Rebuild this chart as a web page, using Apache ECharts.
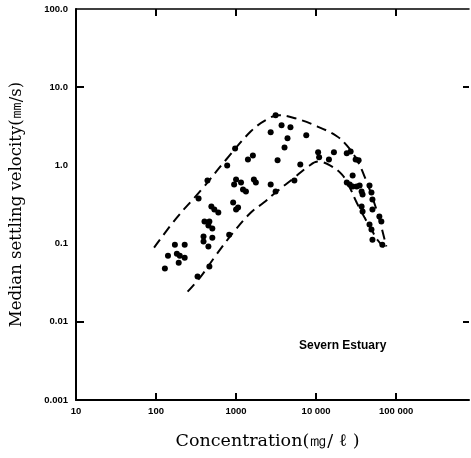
<!DOCTYPE html>
<html><head><meta charset="utf-8">
<script src="https://cdn.jsdelivr.net/npm/echarts@6/dist/echarts.min.js"></script>
<style>html,body{margin:0;padding:0;background:#fff}#c{width:471px;height:458px}</style>
</head><body><div id="c"></div>
<script>
// Tick labels
const xTickValues = [10, 100, 1000, 10000, 100000];
const xTickLabels = ['10', '100', '1000', '10 000', '100 000'];
const yTickValues = [0.001, 0.01, 0.1, 1, 10, 100];
const yTickLabels = ['0.001', '0.01', '0.1', '1.0', '10.0', '100.0'];

// Observed points (concentration mg/l, median settling velocity mm/s)
const pointConc = [172, 228, 141, 182, 198, 228, 192, 129,
  330, 464, 340, 439, 403, 464, 451, 505, 392, 392, 505, 451, 491, 535, 600,
  972, 774, 1406, 1622, 1000, 945, 1153, 1220, 1328, 1668, 1766, 919, 1000, 1059, 820,
  2705, 3300, 2705, 3117, 3117, 3700, 4780, 7530, 4390, 4030,
  10590, 10900, 16680, 14460, 6340, 5350,
  24150, 27000, 31180, 33970, 28600, 24150, 26300, 28600, 32100, 34940, 46420,
  37000, 38040, 49130, 50540, 37000, 38040, 50540, 61660, 65300, 46420, 49130, 50540, 67150];
const pointVel = [0.097, 0.097, 0.070, 0.074, 0.070, 0.066, 0.057, 0.048,
  0.038, 0.051, 0.378, 0.643, 0.191, 0.191, 0.170, 0.156, 0.123, 0.106, 0.119, 0.092, 0.298, 0.273, 0.250,
  1.65, 1.0, 1.19, 1.34, 0.662, 0.571, 0.605, 0.492, 0.464, 0.662, 0.605, 0.335, 0.273, 0.29, 0.130,
  2.65, 1.16, 0.571, 0.464, 4.38, 3.26, 3.07, 2.43, 2.22, 1.70,
  1.47, 1.27, 1.47, 1.19, 1.03, 0.643,
  1.43, 1.51, 1.19, 1.16, 0.745, 0.605, 0.571, 0.538, 0.538, 0.554, 0.554,
  0.464, 0.425, 0.451, 0.366, 0.298, 0.257, 0.273, 0.222, 0.191, 0.175, 0.151, 0.112, 0.097];

// Upper envelope (dashed)
const upperConc = [94.5, 182, 370, 753, 1531, 2345, 3400, 5500, 10280, 18150, 24150, 32100, 40300, 50540, 61660, 75300];
const upperVel  = [0.089, 0.215, 0.49, 1.19, 2.73, 3.78, 4.38, 4.0, 3.16, 2.36, 1.80, 1.19, 0.72, 0.389, 0.203, 0.092];

// Lower envelope (dashed)
const lowerConc = [248, 370, 566, 919, 1531, 2218, 3117, 5200, 7970, 10590, 14900, 20940, 26300, 32100, 40300, 49130, 58200, 71100];
const lowerVel  = [0.0243, 0.039, 0.072, 0.138, 0.25, 0.335, 0.451, 0.68, 0.97, 1.12, 1.0, 0.767, 0.522, 0.335, 0.215, 0.151, 0.112, 0.089];

const zip = (a, b) => a.map((v, i) => [v, b[i]]);
const xLabel = v => { const i = xTickValues.findIndex(t => Math.abs(Math.log10(t) - Math.log10(v)) < 0.01); return i < 0 ? '' : xTickLabels[i]; };
const yLabel = v => { const i = yTickValues.findIndex(t => Math.abs(Math.log10(t) - Math.log10(v)) < 0.01); return i < 0 ? '' : yTickLabels[i]; };

const tickFont = { color: '#000', fontFamily: 'Liberation Sans', fontWeight: 'bold', fontSize: 9.5 };
const lineDark = { color: '#000', width: 2 };

const chart = echarts.init(document.getElementById('c'), null, { renderer: 'canvas' });
chart.setOption({
  animation: false,
  backgroundColor: '#fff',
  title: {
    text: 'Severn Estuary', left: 294, top: 335,
    textStyle: { fontFamily: 'Liberation Sans', fontWeight: 'bold', fontSize: 12, color: '#000' }
  },
  grid: { left: 73, right: 2, top: 9, bottom: 58 },
  xAxis: [{
    type: 'log', logBase: 10, min: 10, max: 812831, position: 'bottom',
    axisLine: { show: true, lineStyle: lineDark },
    axisTick: { show: true, inside: true, length: 7, lineStyle: lineDark, customValues: [100, 1000, 10000, 100000] },
    axisLabel: Object.assign({ margin: 6, formatter: xLabel, customValues: xTickValues }, tickFont),
    splitLine: { show: false },
    name: 'Concentration(㎎/ ℓ )', nameLocation: 'middle', nameGap: 32,
    nameTextStyle: { fontFamily: 'DejaVu Serif', fontSize: 17.5, color: '#000', padding: [0, 10, 0, 0] }
  }, {
    type: 'log', logBase: 10, min: 10, max: 812831, position: 'top',
    axisLine: { show: true, lineStyle: { color: '#000', width: 1.5 } },
    axisTick: { show: true, inside: true, length: 7, lineStyle: lineDark, customValues: [100, 1000, 10000, 100000] },
    axisLabel: { show: false },
    splitLine: { show: false }
  }],
  yAxis: [{
    type: 'log', logBase: 10, min: 0.001, max: 100, position: 'left',
    axisLine: { show: true, lineStyle: lineDark },
    axisTick: { show: true, inside: true, length: 8, lineStyle: lineDark, customValues: [0.01, 10] },
    axisLabel: Object.assign({ margin: 8, formatter: yLabel, customValues: yTickValues }, tickFont),
    splitLine: { show: false },
    name: 'Median settling velocity(㎜/s)', nameLocation: 'middle', nameGap: 51, nameRotate: 90,
    nameTextStyle: { fontFamily: 'DejaVu Serif', fontSize: 16.5, color: '#000' }
  }, {
    type: 'log', logBase: 10, min: 0.001, max: 100, position: 'right',
    axisLine: { show: false },
    axisTick: { show: true, inside: true, length: 6, lineStyle: lineDark, customValues: [0.01, 10] },
    axisLabel: { show: false },
    splitLine: { show: false }
  }],
  series: [{
    type: 'line', data: zip(upperConc, upperVel), smooth: 0.4, symbol: 'none',
    lineStyle: { color: '#000', width: 2, type: [10, 6] }
  }, {
    type: 'line', data: zip(lowerConc, lowerVel), smooth: 0.4, symbol: 'none',
    lineStyle: { color: '#000', width: 2, type: [10, 6] }
  }, {
    type: 'scatter', data: zip(pointConc, pointVel), symbol: 'circle', symbolSize: 6,
    itemStyle: { color: '#000', opacity: 1 }
  }]
});
</script></body></html>
